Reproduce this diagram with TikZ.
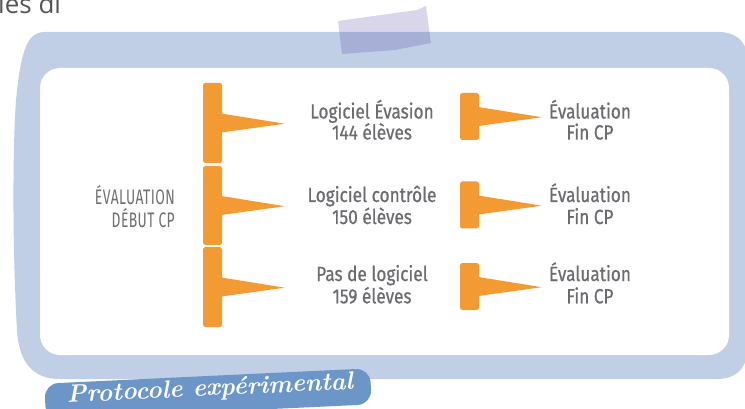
\documentclass[tikz,border=0pt]{standalone}
\usepackage{fontspec}
\usetikzlibrary{calc}
\newfontfamily\lblfont[FakeStretch=0.84,FakeBold=0.6]{Fira Sans}
\newfontfamily\capfont[FakeStretch=0.66,LetterSpace=2]{Fira Sans}
\newfontfamily\topfont{Open Sans}
\definecolor{frameblue}{RGB}{192,206,230}
\definecolor{tagblue}{RGB}{108,150,200}
\definecolor{flagorange}{RGB}{243,154,50}
\definecolor{txtgrey}{RGB}{106,108,111}
\definecolor{capgrey}{RGB}{112,112,114}
\definecolor{tapecol}{RGB}{80,68,165}
\definecolor{topgrey}{RGB}{85,85,85}
\begin{document}
\begin{tikzpicture}[x=1pt,y=-1pt,
  bigbar/.style={fill=flagorange, rounded corners=2.5pt, inner sep=0pt, minimum width=19pt, minimum height=80pt},
  smallbar/.style={fill=flagorange, rounded corners=2.5pt, inner sep=0pt, minimum width=19pt, minimum height=47pt},
  lbl/.style={font=\lblfont\fontsize{20.5}{23}\selectfont, text=txtgrey, inner sep=0pt, anchor=base},
  caplbl/.style={font=\capfont\fontsize{21}{24}\selectfont, text=capgrey, inner sep=0pt, anchor=base east},
  tag/.style={fill=tagblue, rounded corners=14pt, minimum width=326pt, minimum height=36pt, inner sep=0pt},
  tagtext/.style={text=white, inner sep=0pt, font=\bfseries\itshape\fontsize{25}{28}\selectfont}]
\useasboundingbox (0,0) rectangle (745,409);
\clip (0,0) rectangle (745,409);

% cut-off text at the top
\node[font=\topfont\fontsize{26}{30}\selectfont, text=topgrey, inner sep=0pt, anchor=base west] (toptxt) at (-2,13.5) {ies di};

% blue frame
\fill[frameblue] (45,32) -- (718,32) .. controls (735,32) and (746,40) .. (748,58)
  -- (748,350) .. controls (746,370) and (735,379) .. (717,379)
  -- (60,379) .. controls (35,379) and (19,365) .. (17,330)
  .. controls (13,260) and (12,160) .. (16,100)
  .. controls (21,50) and (27,32) .. (45,32) -- cycle;
% white panel
\fill[white, rounded corners=20pt] (40,68) rectangle (729,355);
% tape
\fill[tapecol, fill opacity=0.22] (338,21) -- (417,10) -- (426,6) -- (431,43) -- (395,50) -- (342,54) -- cycle;

% bars
\node[bigbar] (b1) at (212.5,123) {};
\node[bigbar, minimum height=79pt] (b2) at (212.5,205.5) {};
\node[bigbar] (b3) at (212.5,287) {};
\node[smallbar] (s1) at (469.5,116.5) {};
\node[smallbar] (s2) at (469.5,205) {};
\node[smallbar] (s3) at (469.5,286.5) {};
\foreach \b in {b1,b2,b3,s1,s2,s3}{
  \fill[flagorange] ($(\b.east)+(-1,-9.5)$) -- ($(\b.east)+(62.5,0.7)$) -- ($(\b.east)+(-1,9.5)$) -- cycle;
}

% left label
\node[caplbl] (d1) at (175,205) {ÉVALUATION};
\node[caplbl] (d2) at (175,228) {DÉBUT CP};

% middle labels
\node[lbl] (m1a) at (372,118.5) {Logiciel Évasion};
\node[lbl] (m1b) at (372,139.5) {144 élèves};
\node[lbl] (m2a) at (372,202) {Logiciel contrôle};
\node[lbl] (m2b) at (372,224) {150 élèves};
\node[lbl] (m3a) at (372,281) {Pas de logiciel};
\node[lbl] (m3b) at (372,303.3) {159 élèves};

% right labels
\node[lbl] (r1a) at (590,118.5) {Évaluation};
\node[lbl] (r1b) at (590,139.5) {Fin CP};
\node[lbl] (r2a) at (590,202) {Évaluation};
\node[lbl] (r2b) at (590,224) {Fin CP};
\node[lbl] (r3a) at (590,281) {Évaluation};
\node[lbl] (r3b) at (590,303.3) {Fin CP};

% tag
\node[tag, rotate=2.7] (tagbox) at (208,394) {};
\node[tagtext, rotate=2.7] (tagtxt) at (210,389.5) {Protocole expérimental};
\end{tikzpicture}
\end{document}
